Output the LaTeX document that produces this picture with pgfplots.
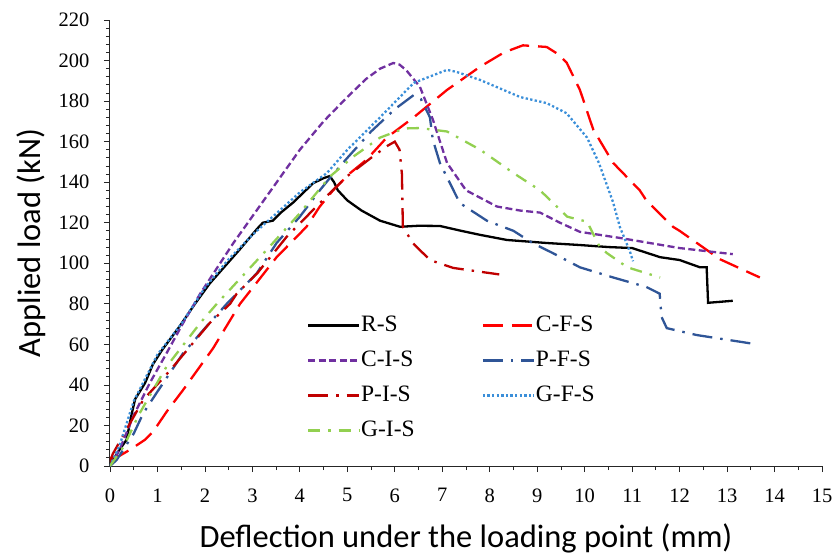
\documentclass[border=0pt]{standalone}
\usepackage{fontspec}
\setmainfont{Liberation Serif}
\newfontfamily\calibri{Carlito}
\usepackage{pgfplots}
\pgfplotsset{compat=1.18}
\definecolor{cfs}{HTML}{FF0000}
\definecolor{cis}{HTML}{7030A0}
\definecolor{pfs}{HTML}{2F5597}
\definecolor{pis}{HTML}{C00000}
\definecolor{gfs}{HTML}{3B8FD9}
\definecolor{gis}{HTML}{92D050}
\begin{document}
\begin{tikzpicture}
\useasboundingbox (-110pt,-91pt) rectangle (728pt,466pt);
\begin{axis}[
  at={(0pt,0pt)}, anchor=south west,
  scale only axis, width=712pt, height=446pt,
  xmin=0, xmax=15, ymin=0, ymax=220,
  axis lines*=left,
  axis line style={line width=1pt, black!85},
  xtick={0,1,...,15}, ytick={0,20,...,220},
  minor x tick num=1, minor y tick num=4,
  tick align=outside, major tick length=6pt, minor tick length=4pt,
  tick style={black!85, line width=0.8pt},
  ticklabel style={font=\fontsize{20.5}{20.5}\selectfont},
  xticklabel style={yshift=-13pt},
  yticklabel style={xshift=-11pt},
  /pgf/number format/assume math mode=true,
  xlabel={Deflection under the loading point (mm)},
  ylabel={Applied load (kN)},
  label style={font=\calibri\fontsize{32.5}{32.5}\selectfont},
  xlabel style={yshift=-14pt},
  ylabel style={yshift=6pt},
  no markers,
  legend columns=2,
  legend cell align=left,
  legend style={draw=none, fill=none, at={(axis cs:4.08,76)}, anchor=north west,
    font=\fontsize{23.5}{23.5}\selectfont,
    nodes={text height=16pt, text depth=5pt, inner sep=1pt},
    row sep=12pt,
    /tikz/every even column/.append style={column sep=66pt}},
  legend image code/.code={\draw[#1] (0pt,0pt) -- (51pt,0pt);},
]
% R-S
\addplot[black, line width=2.3pt, solid] coordinates {
(0,0) (0.06,3) (0.2,8) (0.35,13) (0.45,25) (0.53,33) (0.74,41) (0.9,50) (1.09,57)
(1.47,69) (1.79,80) (2.1,90) (2.74,107) (3.1,117) (3.22,120) (3.43,121) (3.6,125)
(3.86,130) (4.28,139.5) (4.5,142) (4.63,143) (4.72,140) (4.8,136) (5.0,131) (5.3,126)
(5.69,121) (6.11,118) (6.5,118.5) (6.95,118.4) (7.4,116) (7.8,114) (8.36,111.5)
(9.2,110) (9.9,109) (10.5,108) (11.0,107.5) (11.59,103) (12.0,101.6) (12.43,98)
(12.57,98) (12.6,80.5) (13.12,81.5)};
\addlegendentry{R-S}
% C-F-S
\addplot[cfs, line width=2.3pt, dash pattern=on 20pt off 9pt] coordinates {
(0,4) (0.2,5) (0.42,8) (0.74,13) (0.91,17) (1.2,27) (1.54,37.5) (2.17,58) (2.74,80)
(3.51,103) (4.14,118) (4.42,128) (4.7,136) (5.06,144.5) (5.4,151) (5.83,162)
(6.4,172) (7.1,185.5) (7.8,197) (8.3,204) (8.7,207.5) (9.2,206.7) (9.45,203)
(9.62,199) (9.9,185.5) (10.18,166) (10.6,149.5) (11.16,136) (11.3,131)
(11.86,118) (12.0,116) (12.85,102) (13.69,93)};
\addlegendentry{C-F-S}
% C-I-S
\addplot[cis, line width=2.3pt, dash pattern=on 7pt off 3.5pt] coordinates {
(0,0) (0.2,8) (0.5,25) (0.84,41) (1.2,56) (1.54,70.5) (1.9,85) (2.6,110) (3.3,133)
(4.0,156) (4.5,170) (5.0,182) (5.4,191) (5.69,196) (5.97,198.8) (6.1,198)
(6.25,195) (6.53,187) (6.8,171) (7.1,149.5) (7.5,136) (8.15,128) (8.64,126)
(9.06,125) (9.48,120) (9.9,115.5) (10.74,112.5) (12.0,107.5) (13.12,104.5)};
\addlegendentry{C-I-S}
% P-F-S
\addplot[pfs, line width=2.3pt, dash pattern=on 20pt off 8pt on 2.5pt off 8pt] coordinates {
(0,0) (0.14,3) (0.5,16) (0.7,26) (0.98,36) (1.54,55.6) (2.0,68) (2.46,80) (3.09,95)
(3.51,110) (4.0,123) (4.42,136) (4.63,142) (5.0,152) (5.5,165) (6.0,176) (6.4,183)
(6.55,181) (6.74,172) (6.8,161) (6.95,149.5) (7.16,139.6) (7.37,129.7) (7.94,121)
(8.5,116) (8.9,110) (9.33,105) (9.9,98) (10.6,93) (11.3,88.3) (11.58,85)
(11.62,73.5) (11.73,68) (12.36,64.6) (13.63,60)};
\addlegendentry{P-F-S}
% P-I-S
\addplot[pis, line width=2.3pt, dash pattern=on 20pt off 8pt on 2.5pt off 8pt] coordinates {
(0,2) (0.06,6) (0.42,21) (0.7,32.6) (1.26,47) (2.1,70.5) (2.53,80) (2.67,85)
(3.1,95) (3.72,113) (4.56,133) (5.0,143) (5.5,152) (5.85,158) (6.0,160) (6.1,156)
(6.15,144) (6.17,118) (6.38,110) (6.74,101.6) (7.23,97.7) (8.2,94.5)};
\addlegendentry{P-I-S}
% G-F-S
\addplot[gfs, line width=2.3pt, dash pattern=on 2.3pt off 2.3pt] coordinates {
(0,0) (0.2,10) (0.5,32) (1.0,55) (1.5,70) (2.0,88) (2.5,102) (3.0,114) (3.43,123)
(4.0,135) (4.57,144.5) (5.0,156) (5.69,172) (6.4,189) (7.1,195.4) (7.3,194.4)
(7.8,190.4) (8.64,182) (9.2,179) (9.62,174) (10.05,162) (10.3,149.5) (10.6,130)
(10.74,118) (10.95,106) (11.02,101)};
\addlegendentry{G-F-S}
% G-I-S
\addplot[gis, line width=2.3pt, dash pattern=on 12pt off 8pt on 2.5pt off 8pt] coordinates {
(0,0) (0.3,10) (0.6,25) (1.19,49) (1.9,70.5) (2.25,80) (3.3,106.6) (4.0,124.7)
(4.63,142.7) (5.12,152.5) (5.69,162) (6.2,166.5) (6.53,166.7) (7.1,165) (7.8,156)
(8.5,144.5) (9.06,136) (9.63,123) (10.05,120.5) (10.32,108) (10.47,105) (10.9,98)
(11.59,93)};
\addlegendentry{G-I-S}
\end{axis}
\end{tikzpicture}
\end{document}
